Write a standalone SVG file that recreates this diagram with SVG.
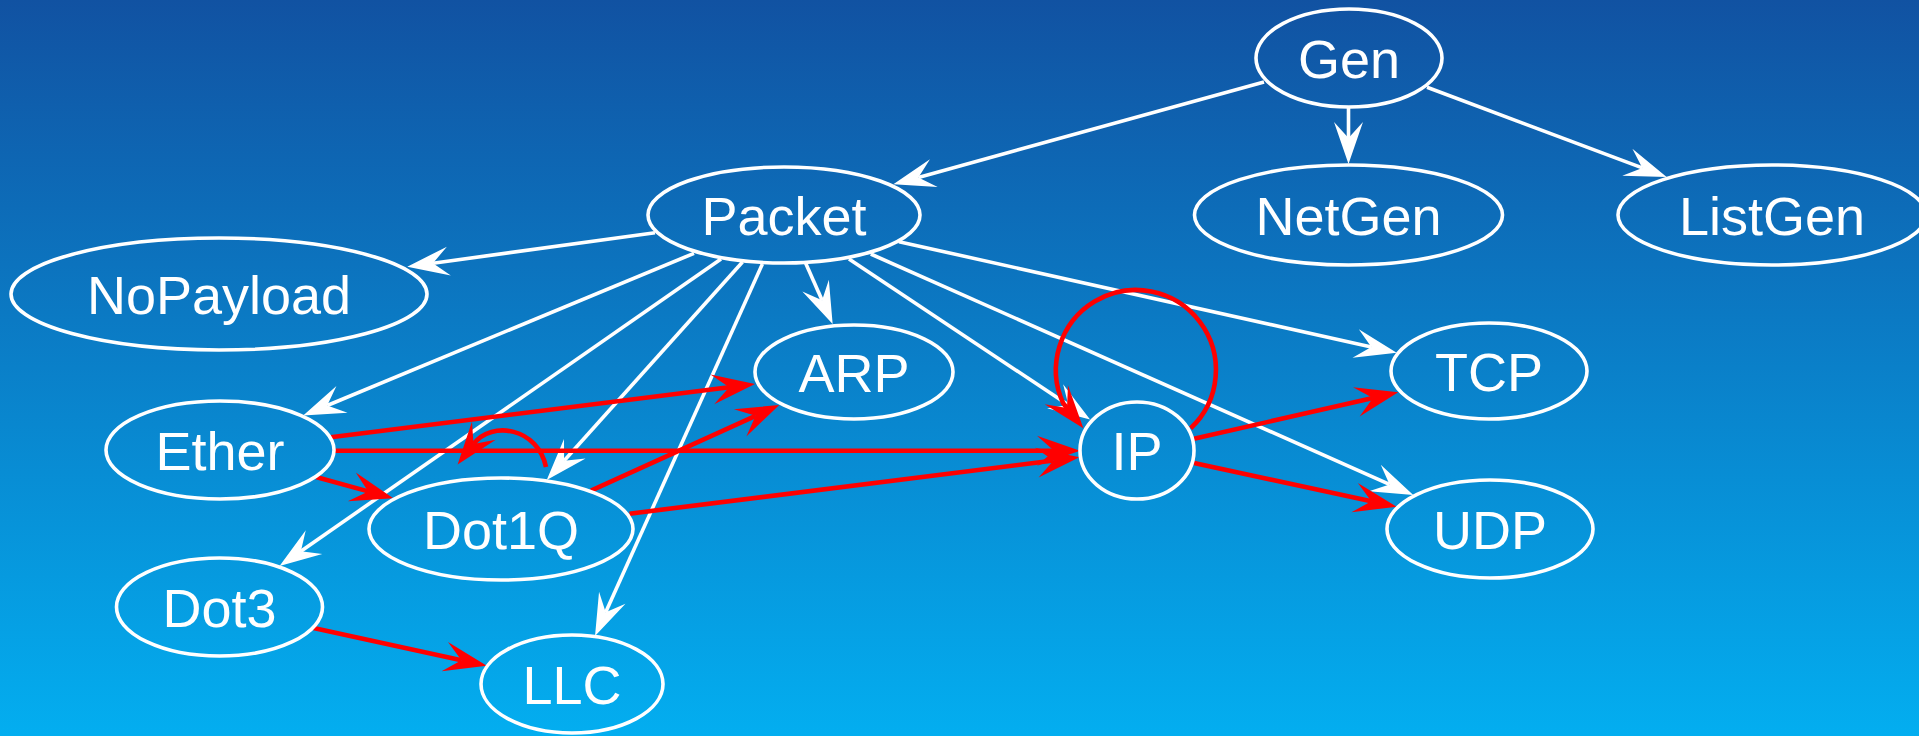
<svg xmlns="http://www.w3.org/2000/svg" width="1919" height="736" viewBox="0 0 1919 736">
<defs>
<linearGradient id="bg" x1="0" y1="0" x2="0" y2="1">
<stop offset="0" stop-color="#1152a2"/>
<stop offset="1" stop-color="#03aef0"/>
</linearGradient>
<marker id="aw" markerUnits="userSpaceOnUse" orient="auto" refX="0" refY="0" markerWidth="60" markerHeight="60" overflow="visible">
<path d="M26,0 L-16,-14.5 L0,0 L-16,14.5 Z" fill="#ffffff"/>
</marker>
<marker id="ar" markerUnits="userSpaceOnUse" orient="auto" refX="0" refY="0" markerWidth="60" markerHeight="60" overflow="visible">
<path d="M26,0 L-17,-15 L0,0 L-17,15 Z" fill="#ff0000"/>
</marker>
</defs>
<style>
.n ellipse{fill:none;stroke:#ffffff;stroke-width:3.6}
.n text{font-family:"Liberation Sans",Arial,sans-serif;font-size:54px;fill:#ffffff;text-anchor:middle}
.w{fill:none;stroke:#ffffff;stroke-width:3.6;marker-end:url(#aw)}
.r{fill:none;stroke:#ff0000;stroke-width:4.6;marker-end:url(#ar)}
</style>
<rect x="0" y="0" width="1919" height="736" fill="url(#bg)"/>
<g id="edges">
<path class="w" d="M1264,82 L918.4,177.4"/>
<path class="w" d="M1348.5,107 L1348.5,138"/>
<path class="w" d="M1427,87.3 L1642.3,167.9"/>
<path class="w" d="M655,232.7 L433,263.2"/>
<path class="w" d="M694,253.3 L327.2,405.5"/>
<path class="w" d="M721,259 L300.9,551.2"/>
<path class="w" d="M742.5,262 L564.1,460.7"/>
<path class="w" d="M762.4,264 L605.7,612.3"/>
<path class="w" d="M805.7,263.3 L822.1,300.2"/>
<path class="w" d="M849,259 L1068.4,405.1"/>
<path class="w" d="M870.8,254 L1389.5,484.4"/>
<path class="w" d="M899,241.7 L1371.3,347"/>
<path class="r" d="M330.7,437.3 L729.2,387.2"/>
<path class="r" d="M335,450.7 L1054,450.7"/>
<path class="r" d="M316,477 L368.2,491.4"/>
<path class="r" d="M546,467 C538,428 492,420 473.5,444"/>
<path class="r" d="M591,490.7 L755.6,415.8"/>
<path class="r" d="M629.5,513.7 L1053.6,460.5"/>
<path class="r" d="M313.5,628 L461.4,660.2"/>
<path class="r" d="M1190.7,428.3 A80,80 0 1 0 1063.2,403.3 L1067,408"/>
<path class="r" d="M1194,438.7 L1372.9,398.1"/>
<path class="r" d="M1194,463 L1371.3,501.2"/>
</g>
<g id="Gen" class="n"><ellipse cx="1349" cy="58" rx="93" ry="49"/><text x="1349" y="77.5">Gen</text></g>
<g id="Packet" class="n"><ellipse cx="784" cy="215" rx="136" ry="48"/><text x="784" y="234.5">Packet</text></g>
<g id="NetGen" class="n"><ellipse cx="1348.5" cy="215" rx="154" ry="50"/><text x="1348.5" y="234.5">NetGen</text></g>
<g id="ListGen" class="n"><ellipse cx="1772" cy="215" rx="154" ry="50"/><text x="1772" y="234.5">ListGen</text></g>
<g id="NoPayload" class="n"><ellipse cx="219" cy="294" rx="208" ry="56"/><text x="219" y="313.5">NoPayload</text></g>
<g id="ARP" class="n"><ellipse cx="854" cy="372" rx="99" ry="47"/><text x="854" y="391.5">ARP</text></g>
<g id="TCP" class="n"><ellipse cx="1489" cy="371" rx="98" ry="48"/><text x="1489" y="390.5">TCP</text></g>
<g id="IP" class="n"><ellipse cx="1137" cy="450.5" rx="57" ry="48.5"/><text x="1137" y="470">IP</text></g>
<g id="Ether" class="n"><ellipse cx="220" cy="450" rx="114" ry="49"/><text x="220" y="469.5">Ether</text></g>
<g id="Dot1Q" class="n"><ellipse cx="501" cy="529" rx="132" ry="51"/><text x="501" y="548.5">Dot1Q</text></g>
<g id="UDP" class="n"><ellipse cx="1490" cy="529" rx="103" ry="49"/><text x="1490" y="548.5">UDP</text></g>
<g id="Dot3" class="n"><ellipse cx="219.5" cy="607" rx="103" ry="49"/><text x="219.5" y="626.5">Dot3</text></g>
<g id="LLC" class="n"><ellipse cx="572" cy="684" rx="91" ry="49"/><text x="572" y="703.5">LLC</text></g>
</svg>
